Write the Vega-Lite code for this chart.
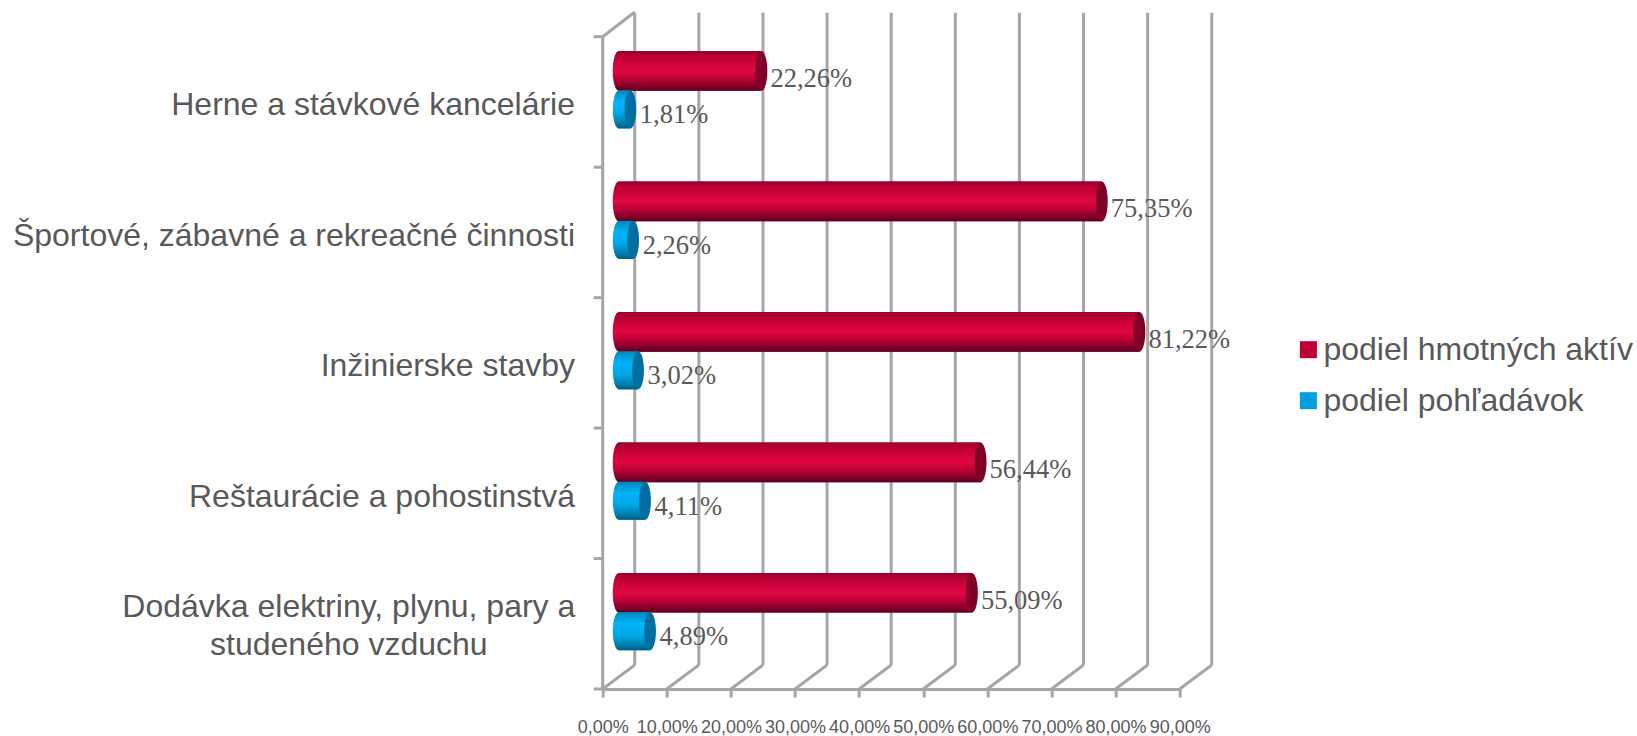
{
"$schema":"https://vega.github.io/schema/vega-lite/v6.json",
"width":577,"height":652.3,
"autosize":{"type":"none"},
"padding":{"left":602.7,"top":36.7,"right":457.3,"bottom":47},
"background":"white",
"config":{"view":{"stroke":null},"font":"Liberation Sans"},
"datasets":{
"hodnoty":[
{"kategoria":"Herne a stávkové kancelárie","serie":"podiel hmotných aktív","hodnota":22.26,"nula":0,"popis":"22,26%"},
{"kategoria":"Herne a stávkové kancelárie","serie":"podiel pohľadávok","hodnota":1.81,"nula":0,"popis":"1,81%"},
{"kategoria":"Športové, zábavné a rekreačné činnosti","serie":"podiel hmotných aktív","hodnota":75.35,"nula":0,"popis":"75,35%"},
{"kategoria":"Športové, zábavné a rekreačné činnosti","serie":"podiel pohľadávok","hodnota":2.26,"nula":0,"popis":"2,26%"},
{"kategoria":"Inžinierske stavby","serie":"podiel hmotných aktív","hodnota":81.22,"nula":0,"popis":"81,22%"},
{"kategoria":"Inžinierske stavby","serie":"podiel pohľadávok","hodnota":3.02,"nula":0,"popis":"3,02%"},
{"kategoria":"Reštaurácie a pohostinstvá","serie":"podiel hmotných aktív","hodnota":56.44,"nula":0,"popis":"56,44%"},
{"kategoria":"Reštaurácie a pohostinstvá","serie":"podiel pohľadávok","hodnota":4.11,"nula":0,"popis":"4,11%"},
{"kategoria":"Dodávka elektriny, plynu, pary a studeného vzduchu","serie":"podiel hmotných aktív","hodnota":55.09,"nula":0,"popis":"55,09%"},
{"kategoria":"Dodávka elektriny, plynu, pary a studeného vzduchu","serie":"podiel pohľadávok","hodnota":4.89,"nula":0,"popis":"4,89%"}
],
"etikety":[
{"kategoria":"Herne a stávkové kancelárie","hodnota":-4.32,"nula":-1.4,"popis":"Herne a stávkové kancelárie"},
{"kategoria":"Športové, zábavné a rekreačné činnosti","hodnota":-4.32,"nula":-1.4,"popis":"Športové, zábavné a rekreačné činnosti"},
{"kategoria":"Inžinierske stavby","hodnota":-4.32,"nula":-1.4,"popis":"Inžinierske stavby"},
{"kategoria":"Reštaurácie a pohostinstvá","hodnota":-4.32,"nula":-1.4,"popis":"Reštaurácie a pohostinstvá"}
],
"etiketa2":[{"kategoria":"Dodávka elektriny, plynu, pary a studeného vzduchu","hodnota":-39.6,"popis":"Dodávka elektriny, plynu, pary a\nstudeného vzduchu"}],
"dolne":[{"kategoria":"Dodávka elektriny, plynu, pary a studeného vzduchu","koniec":"Dodávka elektriny, plynu, pary a studeného vzduchu","a":0,"b":5},
{"kategoria":"Dodávka elektriny, plynu, pary a studeného vzduchu","koniec":"Dodávka elektriny, plynu, pary a studeného vzduchu","a":10,"b":15},
{"kategoria":"Dodávka elektriny, plynu, pary a studeného vzduchu","koniec":"Dodávka elektriny, plynu, pary a studeného vzduchu","a":20,"b":25},
{"kategoria":"Dodávka elektriny, plynu, pary a studeného vzduchu","koniec":"Dodávka elektriny, plynu, pary a studeného vzduchu","a":30,"b":35},
{"kategoria":"Dodávka elektriny, plynu, pary a studeného vzduchu","koniec":"Dodávka elektriny, plynu, pary a studeného vzduchu","a":40,"b":45},
{"kategoria":"Dodávka elektriny, plynu, pary a studeného vzduchu","koniec":"Dodávka elektriny, plynu, pary a studeného vzduchu","a":50,"b":55},
{"kategoria":"Dodávka elektriny, plynu, pary a studeného vzduchu","koniec":"Dodávka elektriny, plynu, pary a studeného vzduchu","a":60,"b":65},
{"kategoria":"Dodávka elektriny, plynu, pary a studeného vzduchu","koniec":"Dodávka elektriny, plynu, pary a studeného vzduchu","a":70,"b":75},
{"kategoria":"Dodávka elektriny, plynu, pary a studeného vzduchu","koniec":"Dodávka elektriny, plynu, pary a studeného vzduchu","a":80,"b":85},
{"kategoria":"Dodávka elektriny, plynu, pary a studeného vzduchu","koniec":"Dodávka elektriny, plynu, pary a studeného vzduchu","a":90,"b":95}],
"horna":[{"kategoria":"Herne a stávkové kancelárie","koniec":"Herne a stávkové kancelárie","a":0,"b":5}],
"steny":[{"kategoria":"Herne a stávkové kancelárie","koniec":"Dodávka elektriny, plynu, pary a studeného vzduchu","b":5},
{"kategoria":"Herne a stávkové kancelárie","koniec":"Dodávka elektriny, plynu, pary a studeného vzduchu","b":15},
{"kategoria":"Herne a stávkové kancelárie","koniec":"Dodávka elektriny, plynu, pary a studeného vzduchu","b":25},
{"kategoria":"Herne a stávkové kancelárie","koniec":"Dodávka elektriny, plynu, pary a studeného vzduchu","b":35},
{"kategoria":"Herne a stávkové kancelárie","koniec":"Dodávka elektriny, plynu, pary a studeného vzduchu","b":45},
{"kategoria":"Herne a stávkové kancelárie","koniec":"Dodávka elektriny, plynu, pary a studeného vzduchu","b":55},
{"kategoria":"Herne a stávkové kancelárie","koniec":"Dodávka elektriny, plynu, pary a studeného vzduchu","b":65},
{"kategoria":"Herne a stávkové kancelárie","koniec":"Dodávka elektriny, plynu, pary a studeného vzduchu","b":75},
{"kategoria":"Herne a stávkové kancelárie","koniec":"Dodávka elektriny, plynu, pary a studeného vzduchu","b":85},
{"kategoria":"Herne a stávkové kancelárie","koniec":"Dodávka elektriny, plynu, pary a studeného vzduchu","b":95}],
"os":[{"kategoria":"Herne a stávkové kancelárie","koniec":"Dodávka elektriny, plynu, pary a studeného vzduchu","b":0}],
"ticky":[
{"kategoria":"Herne a stávkové kancelárie","nula":-1.4,"b":0},
{"kategoria":"Športové, zábavné a rekreačné činnosti","nula":-1.4,"b":0},
{"kategoria":"Inžinierske stavby","nula":-1.4,"b":0},
{"kategoria":"Reštaurácie a pohostinstvá","nula":-1.4,"b":0},
{"kategoria":"Dodávka elektriny, plynu, pary a studeného vzduchu","nula":-1.4,"b":0}]
},
"encoding":{
  "x":{"field":"hodnota","type":"quantitative","title":null,"scale":{"domain":[0,90],"nice":false},"axis":{"values":[0,10,20,30,40,50,60,70,80,90],"title":null,"grid":false,"domainColor":"#A6A6A6","domainWidth":3,"tickColor":"#A6A6A6","tickWidth":3,"tickSize":8,"labelExpr":"replace(format(datum.value,'.2f'),'.',',')+'%'","labelFont":"Liberation Sans","labelFontSize":18,"labelColor":"#595959","labelPadding":21,"labelFlush":false,"labelOverlap":false}},
  "y":{"field":"kategoria","type":"nominal","axis":null,"scale":{"domain":["Herne a stávkové kancelárie","Športové, zábavné a rekreačné činnosti","Inžinierske stavby","Reštaurácie a pohostinstvá","Dodávka elektriny, plynu, pary a studeného vzduchu"],"padding":0}}
},
"data":{"name":"hodnoty"},
"layer":[
 {"data":{"name":"steny"},"mark":{"type":"rule","color":"#A6A6A6","strokeWidth":3,"yOffset":-89.2,"y2Offset":41.2},
  "encoding":{"x":{"field":"b","type":"quantitative","title":null},"x2":{"field":"b"},"y2":{"field":"koniec"}}},
 {"data":{"name":"os"},"mark":{"type":"rule","color":"#A6A6A6","strokeWidth":3,"yOffset":-65.2,"y2Offset":65.2},
  "encoding":{"x":{"field":"b","type":"quantitative","title":null},"x2":{"field":"b"},"y2":{"field":"koniec"}}},
 {"data":{"name":"dolne"},"mark":{"type":"rule","color":"#A6A6A6","strokeWidth":3,"yOffset":65.2,"y2Offset":41.2},
  "encoding":{"x":{"field":"a","type":"quantitative","title":null},"x2":{"field":"b"},"y2":{"field":"koniec"}}},
 {"data":{"name":"horna"},"mark":{"type":"rule","color":"#A6A6A6","strokeWidth":3,"yOffset":-65.2,"y2Offset":-89.9},
  "encoding":{"x":{"field":"a","type":"quantitative","title":null},"x2":{"field":"b"},"y2":{"field":"koniec"}}},
 {"data":{"name":"ticky"},"mark":{"type":"rule","color":"#A6A6A6","strokeWidth":3,"yOffset":-65.2},
  "encoding":{"x":{"field":"nula","type":"quantitative","title":null},"x2":{"field":"b"}}},
 {"data":{"name":"ticky"},"transform":[{"filter":"indexof(datum.kategoria,'Dodávka')==0"}],"mark":{"type":"rule","color":"#A6A6A6","strokeWidth":3,"yOffset":65.2},
  "encoding":{"x":{"field":"nula","type":"quantitative","title":null},"x2":{"field":"b"}}},
 {"data":{"name":"etikety"},"mark":{"type":"text","font":"Liberation Sans","fontSize":32,"color":"#595959","align":"right","baseline":"middle","yOffset":3.5},"encoding":{"text":{"field":"popis"}}},
 {"data":{"name":"etiketa2"},"mark":{"type":"text","font":"Liberation Sans","fontSize":32,"color":"#595959","align":"center","baseline":"middle","lineBreak":"\n","lineHeight":38.6,"yOffset":-17},"encoding":{"text":{"field":"popis"}}},
 {"transform":[{"filter":"datum.serie=='podiel hmotných aktív'"}],"mark":{"type":"bar","size":39.7,"yOffset":-31,"xOffset":16,"x2Offset":16},
    "encoding":{"color":{"field":"serie","type":"nominal","scale":{"domain":["podiel hmotných aktív","podiel pohľadávok"],"range":["#BE0037","#009FE0"]},
     "legend":{"title":null,"orient":"none","legendX":689.7,"legendY":297,"symbolType":"square","symbolSize":289,"symbolStrokeWidth":0,"labelFont":"Liberation Sans","labelFontSize":32,"labelColor":"#595959","labelOffset":-1,"rowPadding":19,"labelLimit":400}}}},
 {"transform":[{"filter":"datum.serie=='podiel pohľadávok'"}],"mark":{"type":"bar","size":38,"yOffset":7.5,"xOffset":16,"x2Offset":16},
    "encoding":{"color":{"field":"serie","type":"nominal"}}},
 {"transform":[{"filter":"datum.serie=='podiel hmotných aktív'"}],"mark":{"type":"bar","size":39.7,"yOffset":-31,"xOffset":16,"x2Offset":16,"fill":{"gradient":"linear","x1":0,"y1":0,"x2":0,"y2":1,"stops":[{"offset":0,"color":"#9A002D"},{"offset":0.2,"color":"#C40038"},{"offset":0.5,"color":"#E00742"},{"offset":0.72,"color":"#B50035"},{"offset":1,"color":"#5A001F"}]}}},
 {"transform":[{"filter":"datum.serie=='podiel hmotných aktív'"}],"mark":{"type":"point","filled":true,"opacity":1,"size":1576,"yOffset":-31,"xOffset":16,"shape":"M 0 -1 A 0.3 1 0 1 0 0 1 A 0.3 1 0 1 0 0 -1 Z","fill":"#800028","stroke":null}},
 {"transform":[{"filter":"datum.serie=='podiel hmotných aktív'"}],"mark":{"type":"point","filled":true,"opacity":1,"size":1576,"yOffset":-31,"xOffset":16,"shape":"M 0 -1 A 0.3 1 0 1 0 0 1 A 0.3 1 0 1 0 0 -1 Z","stroke":null,"fill":{"gradient":"linear","x1":0,"y1":0,"x2":0,"y2":1,"stops":[{"offset":0,"color":"#9A002D"},{"offset":0.2,"color":"#C40038"},{"offset":0.5,"color":"#E00742"},{"offset":0.72,"color":"#B50035"},{"offset":1,"color":"#5A001F"}]}},"encoding":{"x":{"field":"nula","type":"quantitative","title":null}}},
 {"transform":[{"filter":"datum.serie=='podiel pohľadávok'"}],"mark":{"type":"bar","size":38,"yOffset":7.5,"xOffset":16,"x2Offset":16,"fill":{"gradient":"linear","x1":0,"y1":0,"x2":0,"y2":1,"stops":[{"offset":0,"color":"#0088BE"},{"offset":0.3,"color":"#00B4F8"},{"offset":0.6,"color":"#00A8E8"},{"offset":0.85,"color":"#007FB0"},{"offset":1,"color":"#005C82"}]}}},
 {"transform":[{"filter":"datum.serie=='podiel pohľadávok'"}],"mark":{"type":"point","filled":true,"opacity":1,"size":1444,"yOffset":7.5,"xOffset":16,"shape":"M 0 -1 A 0.31 1 0 1 0 0 1 A 0.31 1 0 1 0 0 -1 Z","fill":"#006E9E","stroke":null}},
 {"transform":[{"filter":"datum.serie=='podiel pohľadávok'"}],"mark":{"type":"point","filled":true,"opacity":1,"size":1444,"yOffset":7.5,"xOffset":16,"shape":"M 0 -1 A 0.31 1 0 1 0 0 1 A 0.31 1 0 1 0 0 -1 Z","stroke":null,"fill":{"gradient":"linear","x1":0,"y1":0,"x2":0,"y2":1,"stops":[{"offset":0,"color":"#0088BE"},{"offset":0.3,"color":"#00B4F8"},{"offset":0.6,"color":"#00A8E8"},{"offset":0.85,"color":"#007FB0"},{"offset":1,"color":"#005C82"}]}},"encoding":{"x":{"field":"nula","type":"quantitative","title":null}}},
 {"transform":[{"filter":"datum.serie=='podiel hmotných aktív'"}],"mark":{"type":"text","font":"Liberation Serif","fontSize":26.5,"color":"#595959","align":"left","baseline":"middle","dx":25,"yOffset":-23},"encoding":{"text":{"field":"popis"}}},
 {"transform":[{"filter":"datum.serie=='podiel pohľadávok'"}],"mark":{"type":"text","font":"Liberation Serif","fontSize":26.5,"color":"#595959","align":"left","baseline":"middle","dx":25.5,"yOffset":13.5},"encoding":{"text":{"field":"popis"}}}
]}
